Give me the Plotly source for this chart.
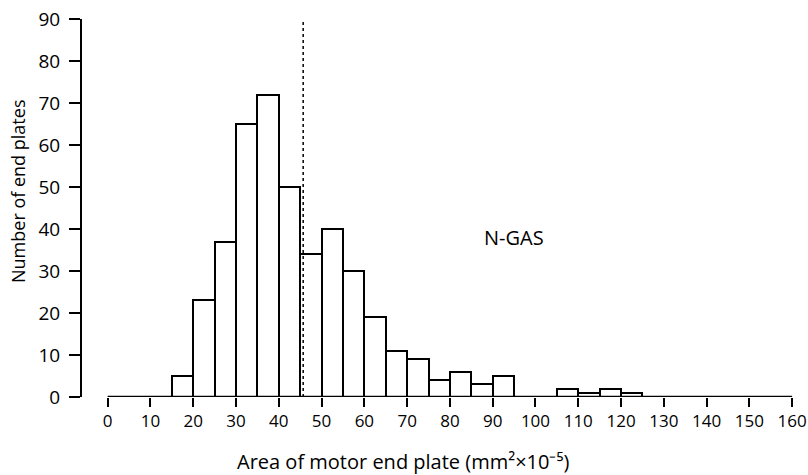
import plotly.graph_objects as go

bin_left = [15, 20, 25, 30, 35, 40, 45, 50, 55, 60, 65, 70, 75, 80, 85, 90, 105, 110, 115, 120]
counts = [5, 23, 37, 65, 72, 50, 34, 40, 30, 19, 11, 9, 4, 6, 3, 5, 2, 1, 2, 1]
bin_width = 5
x_ticks = list(range(0, 161, 10))
y_ticks = list(range(0, 91, 10))
mean_line = 45.7
label_text = "N-GAS"
x_title = "Area of motor end plate (mm²×10⁻⁵)"
y_title = "Number of end plates"

FONT = "Open Sans"
L, R, T, B = 82, 15, 19, 78
W, H = 808, 475
pw, ph = W - L - R, H - T - B

centers = [b + bin_width / 2 for b in bin_left]

fig = go.Figure()
fig.add_trace(go.Bar(
    x=centers, y=counts, width=bin_width,
    marker=dict(color="white", line=dict(color="black", width=2)),
    showlegend=False, hoverinfo="skip"))

fig.add_shape(type="line", x0=0, x1=160, y0=0, y1=0, xref="x", yref="y",
              line=dict(color="black", width=2.5), layer="above")
fig.add_shape(type="line", x0=mean_line, x1=mean_line, y0=0, y1=90, xref="x", yref="y",
              line=dict(color="black", width=1.5, dash="dot"), layer="above")

fig.add_annotation(x=95, y=38, text=label_text, showarrow=False,
                   font=dict(family=FONT, size=20, color="black"))

# axis titles
fig.add_annotation(xref="paper", yref="paper", x=(403 - L) / pw, y=(H - B - 462) / ph,
                   text=x_title, showarrow=False, xanchor="center", yanchor="middle",
                   font=dict(family=FONT, size=20, color="black"))
fig.add_annotation(xref="paper", yref="paper", x=(18 - L) / pw, y=(H - B - 192) / ph,
                   text=y_title, showarrow=False, xanchor="center", yanchor="middle",
                   textangle=-90, font=dict(family=FONT, size=18, color="black"))

fig.update_layout(
    width=W, height=H,
    margin=dict(l=L, r=R, t=T, b=B),
    paper_bgcolor="white", plot_bgcolor="white",
    font=dict(family=FONT, size=17, color="black"),
    bargap=0,
    xaxis=dict(range=[-6, 160.2], tickvals=x_ticks, ticks="outside", ticklen=9, tickwidth=2,
               tickcolor="black", showline=False, showgrid=False, zeroline=False,
               tickfont=dict(size=17), automargin=False),
    yaxis=dict(range=[0, 90], tickvals=y_ticks, ticks="outside", ticklen=11, tickwidth=2,
               tickcolor="black", showline=True, linecolor="black", linewidth=2,
               showgrid=False, zeroline=False, tickfont=dict(size=19), automargin=False,
               ticklabelstandoff=5),
)

fig.write_html("out.html")
